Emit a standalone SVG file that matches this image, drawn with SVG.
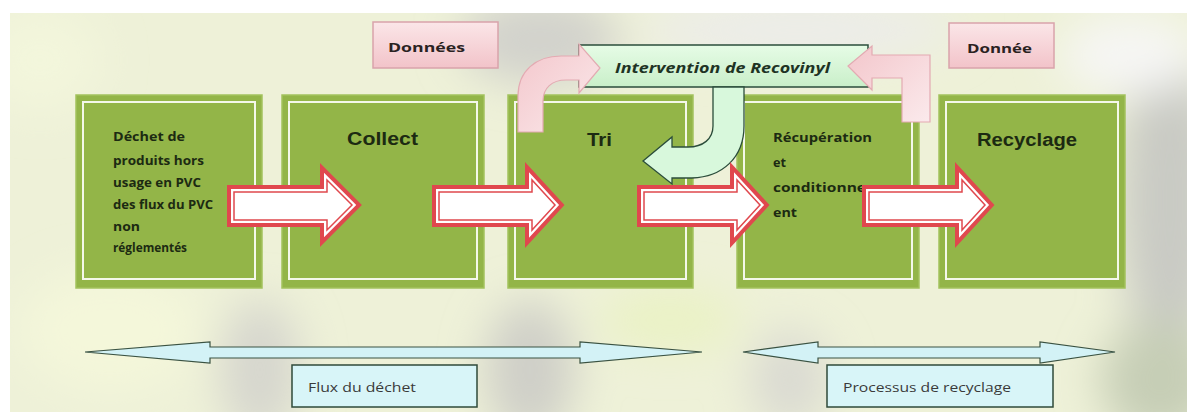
<svg xmlns="http://www.w3.org/2000/svg" width="1187" height="412" viewBox="0 0 1187 412">
<defs>
  <style>
    .box { fill: #93b548; stroke: #a3c25c; stroke-width: 1.5; }
    .inner { fill: none; stroke: #f4f8ea; stroke-width: 2; }
    .t1 { font-family: "Open Sans", "Liberation Sans", sans-serif; font-weight: bold; font-size: 12px; fill: #1c2a12; }
    .t2 { font-family: "Liberation Sans", Arial, sans-serif; font-weight: bold; font-size: 18px; fill: #1c2a12; }
    .tag { fill: url(#pinkBox); stroke: #d9a3ab; stroke-width: 1.5; }
    .tagt { font-family: "Open Sans", "Liberation Sans", sans-serif; font-weight: bold; font-size: 13px; fill: #2a2222; }
    .rOut { fill: none; stroke: #e0484e; stroke-width: 14; stroke-linejoin: miter; }
    .rMid { fill: #ffffff; stroke: #ffffff; stroke-width: 6; stroke-linejoin: miter; }
    .rIn { fill: none; stroke: #e0484e; stroke-width: 1.5; stroke-linejoin: miter; }
    .pink { fill: url(#pinkArrow); stroke: #e3aab2; stroke-width: 1.2; }
    .garrow { fill: #d8f8dc; stroke: #2b4d3b; stroke-width: 1.3; }
    .cyan { fill: #d3f2f6; stroke: #3a5242; stroke-width: 1.2; }
    .lbl { fill: #d8f5f8; stroke: #2f4a3a; stroke-width: 1.5; }
    .lblt { font-family: "Open Sans", "Liberation Sans", sans-serif; font-size: 12.5px; fill: #3a3a3a; }
  </style>
  <linearGradient id="pinkBox" x1="0" y1="0" x2="0" y2="1">
    <stop offset="0" stop-color="#fbe6e8"/>
    <stop offset="1" stop-color="#f2c3c9"/>
  </linearGradient>
  <linearGradient id="pinkArrow" x1="0" y1="0" x2="1" y2="1">
    <stop offset="0" stop-color="#f3c6cb"/>
    <stop offset="1" stop-color="#fbeaec"/>
  </linearGradient>
  <linearGradient id="greenBox" x1="0" y1="0" x2="0" y2="1">
    <stop offset="0" stop-color="#e6fce6"/>
    <stop offset="1" stop-color="#c9efc9"/>
  </linearGradient>
  <filter id="blur" x="-20%" y="-20%" width="140%" height="140%">
    <feGaussianBlur stdDeviation="22"/>
  </filter>
  <clipPath id="bgclip"><rect x="10" y="13" width="1177" height="399"/></clipPath>
  <path id="a1" d="M234 192 H327 V180 L352 205 L327 230 V220 H234 Z"/>
  <path id="a2" d="M439 192 H532 V180 L555 205 L532 230 V220 H439 Z"/>
  <path id="a3" d="M644 192 H737 V180 L760 205 L737 230 V220 H644 Z"/>
  <path id="a4" d="M869 192 H962 V180 L985 205 L962 230 V220 H869 Z"/>
</defs>

<rect x="0" y="0" width="1187" height="412" fill="#ffffff"/>
<g id="background" clip-path="url(#bgclip)">
  <rect x="10" y="13" width="1177" height="399" fill="#eef1d8"/>
  <g filter="url(#blur)">
    <ellipse cx="540" cy="40" rx="80" ry="45" fill="#d2d2cc"/>
    <ellipse cx="800" cy="30" rx="160" ry="30" fill="#ececea"/>
    <ellipse cx="1170" cy="200" rx="50" ry="170" fill="#c9cac4"/>
    <ellipse cx="1130" cy="55" rx="70" ry="40" fill="#f6f6f4"/>
    <ellipse cx="260" cy="370" rx="40" ry="70" fill="#d6d6ce"/>
    <ellipse cx="530" cy="370" rx="45" ry="70" fill="#cfcfc8"/>
    <ellipse cx="670" cy="320" rx="70" ry="30" fill="#eaf2c4"/>
    <ellipse cx="790" cy="380" rx="40" ry="50" fill="#dadad2"/>
    <ellipse cx="1160" cy="380" rx="60" ry="60" fill="#c6ceb6"/>
    <ellipse cx="40" cy="60" rx="60" ry="50" fill="#f3f6dc"/>
    <ellipse cx="110" cy="330" rx="90" ry="60" fill="#f4f7da"/>
  </g>
</g>

<g id="node-dechet">
  <rect class="box" x="76" y="95" width="186" height="193"/>
  <rect class="inner" x="83" y="102" width="172" height="177"/>
  <text class="t1" x="113" y="141" textLength="72" lengthAdjust="spacingAndGlyphs">Déchet de</text>
  <text class="t1" x="113" y="165" textLength="91" lengthAdjust="spacingAndGlyphs">produits hors</text>
  <text class="t1" x="113" y="187" textLength="88" lengthAdjust="spacingAndGlyphs">usage en PVC</text>
  <text class="t1" x="113" y="209" textLength="100" lengthAdjust="spacingAndGlyphs">des flux du PVC</text>
  <text class="t1" x="113" y="231" textLength="27" lengthAdjust="spacingAndGlyphs">non</text>
  <text class="t1" x="113" y="252" textLength="74" lengthAdjust="spacingAndGlyphs">réglementés</text>
</g>

<g id="node-collect">
  <rect class="box" x="282" y="95" width="202" height="193"/>
  <rect class="inner" x="289" y="102" width="188" height="177"/>
  <text class="t2" x="347" y="145" textLength="71" lengthAdjust="spacingAndGlyphs">Collect</text>
</g>

<g id="node-tri">
  <rect class="box" x="508" y="95" width="185" height="193"/>
  <rect class="inner" x="515" y="102" width="171" height="177"/>
  <text class="t2" x="587" y="146" textLength="25" lengthAdjust="spacingAndGlyphs">Tri</text>
</g>

<g id="node-recuperation">
  <rect class="box" x="737" y="95" width="182" height="193"/>
  <rect class="inner" x="744" y="102" width="168" height="177"/>
  <text class="t1" x="773" y="142" textLength="99" lengthAdjust="spacingAndGlyphs">Récupération</text>
  <text class="t1" x="773" y="167" textLength="13" lengthAdjust="spacingAndGlyphs">et</text>
  <text class="t1" x="773" y="192" textLength="93" lengthAdjust="spacingAndGlyphs">conditionne</text>
  <text class="t1" x="773" y="217" textLength="24" lengthAdjust="spacingAndGlyphs">ent</text>
</g>

<g id="node-recyclage">
  <rect class="box" x="939" y="95" width="186" height="193"/>
  <rect class="inner" x="946" y="102" width="172" height="177"/>
  <text class="t2" x="977" y="146" textLength="100" lengthAdjust="spacingAndGlyphs">Recyclage</text>
</g>

<g id="node-donnees">
  <rect class="tag" x="373" y="22" width="125" height="46"/>
  <text class="tagt" x="388" y="52" textLength="77" lengthAdjust="spacingAndGlyphs">Données</text>
</g>

<g id="node-donnee">
  <rect class="tag" x="949" y="23" width="105" height="45"/>
  <text class="tagt" x="967" y="53" textLength="65" lengthAdjust="spacingAndGlyphs">Donnée</text>
</g>

<g id="node-intervention">
  <rect x="579" y="45" width="289" height="42" fill="url(#greenBox)" stroke="#2b4d3b" stroke-width="1.5"/>
  <text x="615" y="73" textLength="215" lengthAdjust="spacingAndGlyphs" font-family="'Open Sans', 'Liberation Sans', sans-serif" font-weight="bold" font-style="italic" font-size="14" fill="#1e3324">Intervention de Recovinyl</text>
</g>

<g id="connectors">
  <path class="garrow" d="M713 87 H744 V126 C744 158 722 177 692 178 H672 V184 L643 161 L672 137 V147 H688 C703 147 713 139 713 126 Z"/>
  <path class="pink" d="M518 132 V96 C518 71 536 56 561 56 H579 V44 L600 68 L579 93 V80 H566 C552 80 543 88 543 101 V132 Z"/>
  <path class="pink" d="M930 55 V122 H902 V78 H872 V90 L848 66 L872 46 V55 Z"/>

  <use href="#a1" class="rOut"/><use href="#a1" class="rMid"/><use href="#a1" class="rIn"/>
  <use href="#a2" class="rOut"/><use href="#a2" class="rMid"/><use href="#a2" class="rIn"/>
  <use href="#a3" class="rOut"/><use href="#a3" class="rMid"/><use href="#a3" class="rIn"/>
  <use href="#a4" class="rOut"/><use href="#a4" class="rMid"/><use href="#a4" class="rIn"/>

  <path class="cyan" d="M85 352 L210 342 V347 H580 V342 L702 352 L580 363 V358 H210 V363 Z"/>
  <path class="cyan" d="M743 352 L818 342 V347 H1040 V342 L1115 352 L1040 363 V358 H818 V363 Z"/>
</g>

<g id="node-flux">
  <rect class="lbl" x="292" y="365" width="185" height="42"/>
  <text class="lblt" x="308" y="392" textLength="108" lengthAdjust="spacingAndGlyphs">Flux du déchet</text>
</g>

<g id="node-processus">
  <rect class="lbl" x="827" y="365" width="226" height="42"/>
  <text class="lblt" x="843" y="392" textLength="168" lengthAdjust="spacingAndGlyphs">Processus de recyclage</text>
</g>
</svg>
